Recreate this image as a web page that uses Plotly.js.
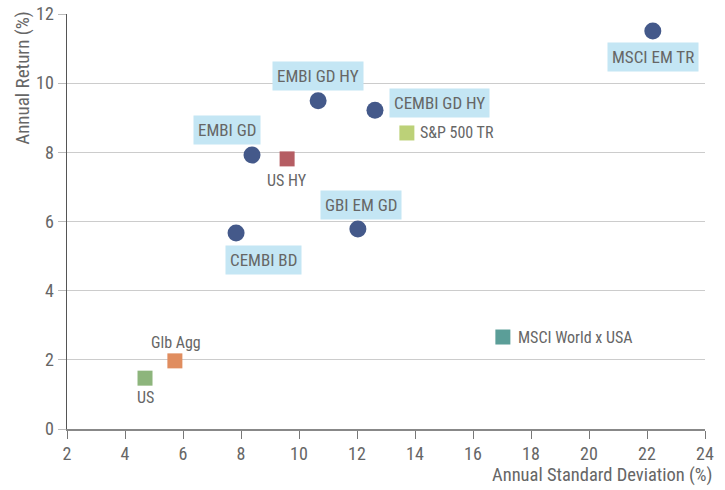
<!DOCTYPE html>
<html><head><meta charset="utf-8">
<script src="https://cdn.plot.ly/plotly-3.0.1.min.js"></script>
<style>html,body{margin:0;padding:0;background:#fff}#c{width:725px;height:490px}</style>
</head><body><div id="c"></div>
<script>
// Blue circle series (EM debt / equity)
const circleNames = ["MSCI EM TR","EMBI GD HY","CEMBI GD HY","EMBI GD","GBI EM GD","CEMBI BD"];
const circleX = [22.2, 10.66, 12.62, 8.38, 12.03, 7.83];
const circleY = [11.51, 9.49, 9.22, 7.92, 5.78, 5.67];

// Square series
const squareNames = ["US HY","S&P 500 TR","MSCI World x USA","Glb Agg","US"];
const squareX = [9.59, 13.72, 17.03, 5.72, 4.69];
const squareY = [7.81, 8.56, 2.66, 1.97, 1.47];

const xTicks = [2,4,6,8,10,12,14,16,18,20,22,24];
const yTicks = [0,2,4,6,8,10,12];

const FONT = '"Liberation Sans Narrow","Roboto Condensed","DejaVu Sans Condensed",Roboto,sans-serif';
const TXT = '#666666';
const circleColor = '#44598a';
const squareColors = ['#b55d63','#bcd178','#5b9e98','#e08d5f','#8db57c'];

// label placement (styling only)
const circleLbl = [
  {xs:0, ys:-26}, {xs:0, ys:25}, {xs:65, ys:7}, {xs:-25, ys:25}, {xs:3, ys:24}, {xs:27, ys:-27}
];
const squareLbl = [
  {xs:0, ys:-22, xa:'center'}, {xs:11, ys:0, xa:'left'}, {xs:13, ys:0, xa:'left'},
  {xs:1, ys:18, xa:'center'}, {xs:0, ys:-19, xa:'center'}
];

const annotations = [];
circleNames.forEach((n,i)=>{
  annotations.push({x:circleX[i], y:circleY[i], xref:'x', yref:'y', text:n, showarrow:false,
    xshift:circleLbl[i].xs, yshift:circleLbl[i].ys, bgcolor:'#c4e6f4', borderpad:4,
    font:{family:FONT, size:17, color:TXT}});
});
squareNames.forEach((n,i)=>{
  annotations.push({x:squareX[i], y:squareY[i], xref:'x', yref:'y', text:n, showarrow:false,
    xanchor:squareLbl[i].xa, xshift:squareLbl[i].xs, yshift:squareLbl[i].ys,
    font:{family:FONT, size:16, color:TXT}});
});
annotations.push({xref:'paper', yref:'paper', x:-0.069, y:1.01, xanchor:'center', yanchor:'top',
  text:'Annual Return (%)', textangle:-90, showarrow:false, borderpad:0, font:{family:FONT, size:19, color:TXT}});
annotations.push({xref:'paper', yref:'paper', x:1.012, y:-0.139, xanchor:'right', yanchor:'bottom',
  text:'Annual Standard Deviation (%)', showarrow:false, borderpad:0, font:{family:FONT, size:18.5, color:TXT}});

const data = [
  {type:'scatter', mode:'markers', x:circleX, y:circleY, text:circleNames,
   marker:{symbol:'circle', size:17, color:circleColor}, cliponaxis:false, hoverinfo:'text'},
  {type:'scatter', mode:'markers', x:squareX, y:squareY, text:squareNames,
   marker:{symbol:'square', size:15, color:squareColors}, cliponaxis:false, hoverinfo:'text'}
];

const layout = {
  width:725, height:490, showlegend:false,
  margin:{l:67, r:20, t:14, b:61},
  paper_bgcolor:'#fff', plot_bgcolor:'#fff',
  font:{family:FONT, color:TXT},
  xaxis:{range:[2,24], tickvals:xTicks, ticktext:xTicks.map(String), showgrid:false, zeroline:false,
    showline:true, linecolor:'#888', linewidth:1.5, ticks:'outside', ticklen:8, tickcolor:'#777',
    tickfont:{family:FONT, size:18, color:TXT}, fixedrange:true},
  yaxis:{range:[0,12], tickvals:yTicks, ticktext:yTicks.map(String), showgrid:true, gridcolor:'#cccccc',
    gridwidth:1, zeroline:false, showline:true, linecolor:'#555', linewidth:1.5, ticks:'outside',
    ticklen:8, tickcolor:'#bbb', tickfont:{family:FONT, size:18, color:TXT}, fixedrange:true},
  annotations: annotations
};
Plotly.newPlot('c', data, layout, {staticPlot:true});
</script></body></html>
